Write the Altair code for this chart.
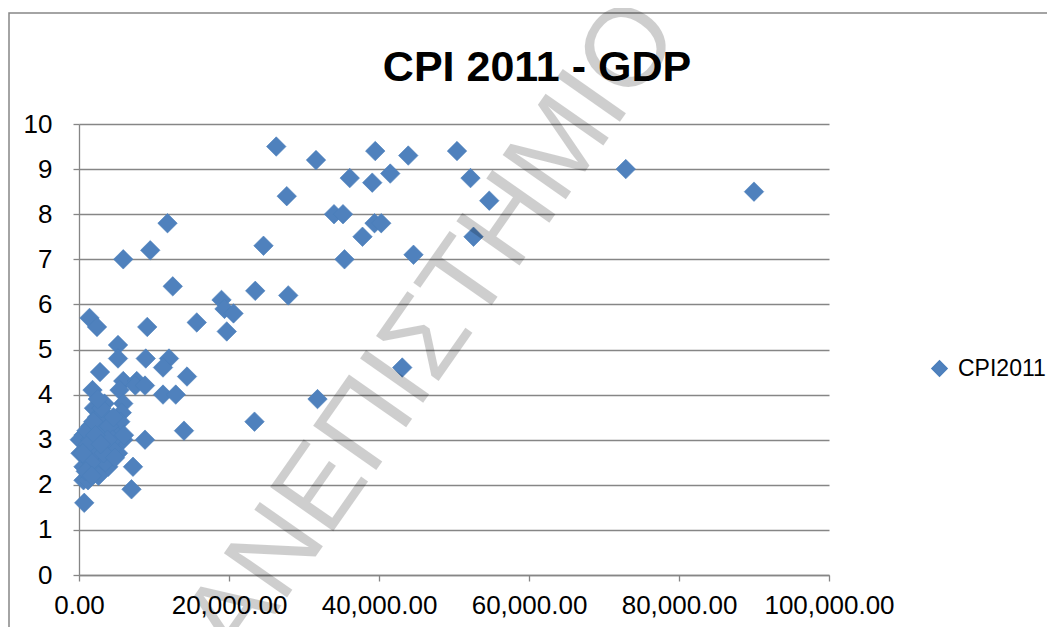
import altair as alt
import pandas as pd

# ---- data ----
gdp = [
    26300, 31600, 39500, 43900, 50400, 72900, 90000, 41500, 39100, 36100,
    52200, 27700, 54700, 34000, 35200, 39400, 40300, 37800, 52600, 44600,
    35400, 24600, 43100, 31800, 23400, 23500, 27900,
    11800, 9500, 5900, 12500, 19000, 19400, 20600, 15700, 19700, 9100,
    1400, 2400, 5200, 5200, 8900, 12000, 11200, 14400, 2800, 5900,
    7700, 7500, 8800, 5400, 1800, 11200, 12900, 14000, 8800, 7200, 7000,
    3400, 5900, 2000, 5700, 2600, 4400, 5500, 1500, 3500, 600,
    5000, 100, 2400, 5900, 1200, 3900, 200, 5200, 1000, 2800,
    600, 2100, 3900, 600, 1200, 700,
    1500, 1800, 2400, 3000, 3200, 4000, 4500, 1000, 2000, 3500,
    4400, 1600, 2600, 900, 1900, 3000, 4600, 2500, 3800, 1200,
    2200, 3300, 4800, 1700, 2900, 500, 6000,
]
cpi = [
    9.5, 9.2, 9.4, 9.3, 9.4, 9.0, 8.5, 8.9, 8.7, 8.8,
    8.8, 8.4, 8.3, 8.0, 8.0, 7.8, 7.8, 7.5, 7.5, 7.1,
    7.0, 7.3, 4.6, 3.9, 3.4, 6.3, 6.2,
    7.8, 7.2, 7.0, 6.4, 6.1, 5.9, 5.8, 5.6, 5.4, 5.5,
    5.7, 5.5, 5.1, 4.8, 4.8, 4.8, 4.6, 4.4, 4.5, 4.3,
    4.3, 4.2, 4.2, 4.1, 4.1, 4.0, 4.0, 3.2, 3.0, 2.4, 1.9,
    3.8, 3.8, 3.7, 3.6, 3.4, 3.4, 3.4, 3.3, 3.2, 3.1,
    3.1, 3.0, 3.0, 3.0, 2.8, 2.9, 2.7, 2.7, 2.6, 2.6,
    2.4, 2.4, 2.4, 2.1, 2.1, 1.6,
    3.0, 2.9, 3.5, 3.2, 3.6, 3.3, 3.0, 3.2, 2.7, 2.5,
    2.8, 2.5, 2.2, 2.3, 3.4, 3.7, 3.5, 3.9, 3.0, 2.9,
    3.1, 2.7, 2.6, 2.2, 2.9, 2.7, 3.1,
]
series_name = "CPI2011"
title_text = "CPI 2011 - GDP"
watermark_text = "ΠΑΝΕΠΙΣΤΗΜΙΟ"
x_ticks = [0, 20000, 40000, 60000, 80000, 100000]
y_ticks = [0, 1, 2, 3, 4, 5, 6, 7, 8, 9, 10]

df = pd.DataFrame({"GDP": gdp, "CPI": cpi, "series": series_name})

FONT = "Liberation Sans"
GRAY = "#868686"
BLUE = "#4F81BD"

x_enc = alt.X(
    "GDP:Q",
    scale=alt.Scale(domain=[0, 100000], nice=False, zero=True),
    axis=alt.Axis(values=x_ticks, format=",.2f", title=None, grid=False,
                  labelFontSize=26, labelFont=FONT, labelColor="black",
                  tickSize=6, labelPadding=11, labelFlush=False),
)
y_enc = alt.Y(
    "CPI:Q",
    scale=alt.Scale(domain=[0, 10], nice=False),
    axis=alt.Axis(values=y_ticks, format="d", title=None, grid=True,
                  labelFontSize=26, labelFont=FONT, labelColor="black",
                  tickSize=6, labelPadding=21),
)

frame = alt.Chart(pd.DataFrame({"k": [0]})).mark_rect(
    fillOpacity=0, stroke=GRAY, strokeWidth=1.5
).encode(x=alt.value(-70), y=alt.value(-111), x2=alt.value(3000), y2=alt.value(3000))

title = alt.Chart(pd.DataFrame({"t": [title_text]})).mark_text(
    align="center", baseline="middle", fontSize=43, fontWeight="bold",
    font=FONT, color="black"
).encode(text="t:N", x=alt.value(458), y=alt.value(-56))

points = alt.Chart(df).mark_point(
    shape="diamond", filled=True, size=380, opacity=1, stroke="#4A7EBB", strokeWidth=0.6
).encode(
    x=x_enc,
    y=y_enc,
    color=alt.Color(
        "series:N",
        scale=alt.Scale(range=[BLUE]),
        legend=alt.Legend(title=None, orient="none", legendX=849, legendY=233,
                          symbolType="diamond", symbolSize=230, symbolOpacity=1,
                          labelFontSize=23, labelFont=FONT, labelColor="black",
                          labelOffset=7, padding=0),
    ),
)

watermark = alt.Chart(pd.DataFrame({"t": [watermark_text]})).mark_text(
    angle=305, align="right", baseline="middle", fontSize=112,
    font="Liberation Sans", color="black", opacity=0.19
).encode(text="t:N", x=alt.value(575), y=alt.value(-110))

chart = alt.layer(frame, title, points, watermark).properties(
    width=750,
    height=451,
    autosize=alt.AutoSizeParams(type="none"),
    padding={"left": 71, "top": 116, "right": 218, "bottom": 52},
).configure_view(stroke=None).configure_axis(
    domainColor=GRAY, tickColor=GRAY, gridColor=GRAY,
    domainWidth=1.3, tickWidth=1.3, gridWidth=1.3,
)

chart.save("out.html", embed_options={"renderer": "svg", "actions": False})
